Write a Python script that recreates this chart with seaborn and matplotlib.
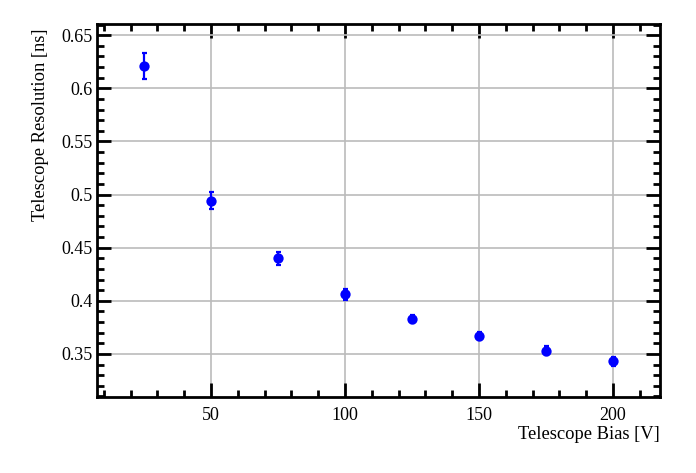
import matplotlib
matplotlib.use("Agg")
import matplotlib.pyplot as plt
import seaborn as sns
import pandas as pd
from matplotlib.ticker import MultipleLocator

bias = [25, 50, 75, 100, 125, 150, 175, 200]
resolution = [0.621, 0.494, 0.440, 0.406, 0.383, 0.367, 0.353, 0.343]
res_err = [0.0125, 0.008, 0.006, 0.005, 0.004, 0.004, 0.004, 0.004]

df = pd.DataFrame({"bias": bias, "res": resolution, "err": res_err})

sns.set_style("white")
plt.rcParams["font.family"] = ["Liberation Serif", "DejaVu Serif"]
plt.rcParams["text.color"] = "black"
plt.rcParams["axes.labelcolor"] = "black"
plt.rcParams["xtick.color"] = "black"
plt.rcParams["ytick.color"] = "black"

fig = plt.figure(figsize=(6.96, 4.73), dpi=100)
ax = fig.add_axes([97/696, 1-397/473, (660-97)/696, (397-24)/473])

ax.errorbar(df["bias"], df["res"], yerr=df["err"], fmt="none", ecolor="#0000ff",
            elinewidth=1.6, capsize=1.8, capthick=1.6, zorder=3)
sns.scatterplot(data=df, x="bias", y="res", ax=ax, color="#0000ff", s=55,
                edgecolor="#0000ff", linewidth=0, zorder=4, legend=False)

ax.set_xlim(7.5, 217.5)
ax.set_ylim(0.3094, 0.6606)
ax.xaxis.set_major_locator(MultipleLocator(50))
ax.xaxis.set_minor_locator(MultipleLocator(10))
ax.yaxis.set_major_locator(MultipleLocator(0.05))
ax.yaxis.set_minor_locator(MultipleLocator(0.01))
ax.yaxis.set_major_formatter(plt.FuncFormatter(lambda v, p: f"{v:.2f}".rstrip("0").rstrip(".")))

ax.grid(True, which="major", color="#bbbbbb", linewidth=1.2)
ax.set_axisbelow(True)

for s in ax.spines.values():
    s.set_visible(True)
    s.set_color("black")
    s.set_linewidth(2)

ax.tick_params(which="both", direction="in", top=True, right=True, bottom=True, left=True,
               color="black", labelcolor="black", labelsize=13)
ax.tick_params(which="major", length=10, width=2)
ax.tick_params(which="minor", length=5, width=2)
ax.tick_params(axis="x", which="major", pad=7)
ax.tick_params(axis="y", which="major", pad=3)

ax.set_xlabel("Telescope Bias [V]", fontsize=13.3, loc="right", color="black")
ax.set_ylabel("Telescope Resolution [ns]", fontsize=13.3, loc="top", color="black")
ax.xaxis.set_label_coords(1.0, -27/373 - 0.006)
ax.yaxis.set_label_coords(-48/563, 1 - 5/373)

fig.savefig("out.png", dpi=100)
